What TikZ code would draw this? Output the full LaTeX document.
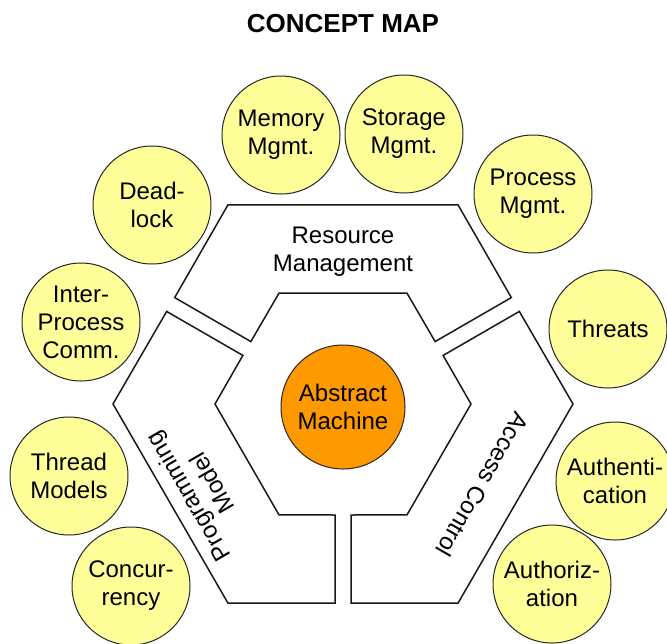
\documentclass[tikz,border=0pt]{standalone}
\usepackage{fontspec}
\setmainfont{Liberation Sans}
\definecolor{topicyellow}{HTML}{FFFF99}
\definecolor{coreorange}{HTML}{FF9900}

\begin{document}
\begin{tikzpicture}[x=1pt, y=-1pt, thick]

	\tikzstyle{topic}=[circle, line width=1pt, draw=black!85, fill=topicyellow, text=black, minimum size=118pt, inner sep=0pt, align=center, font=\fontsize{24}{28}\selectfont]
	\tikzstyle{core}=[circle, line width=1pt, draw=black!85, fill=coreorange, text=black, minimum size=124pt, inner sep=0pt, align=center, font=\fontsize{24}{28}\selectfont]
	\tikzstyle{area}=[draw=black!90, fill=white, line width=1.5pt, line join=miter]
	\tikzstyle{arealabel}=[align=center, text=black, font=\fontsize{24}{28}\selectfont]

	\useasboundingbox (0,0) rectangle (667,643);

	\node[anchor=base, font=\fontsize{26}{30}\selectfont\bfseries] (title) at (343,32) {CONCEPT MAP};

	% three parts of the hexagon
	\begin{scope}[shift={(343,404)}]
		\draw[area] ([shift={(120:8pt)}]30:199pt) -- (60:230pt) -- (120:230pt) -- ([shift={(60:8pt)}]150:199pt)
			-- ([shift={(60:8pt)}]150:111pt) -- (120:128pt) -- (60:128pt) -- ([shift={(120:8pt)}]30:111pt) -- cycle;
		\draw[area] ([shift={(240:8pt)}]150:199pt) -- (180:230pt) -- (240:230pt) -- ([shift={(180:8pt)}]270:199pt)
			-- ([shift={(180:8pt)}]270:111pt) -- (240:128pt) -- (180:128pt) -- ([shift={(240:8pt)}]150:111pt) -- cycle;
		\draw[area] ([shift={(0:8pt)}]270:199pt) -- (300:230pt) -- (0:230pt) -- ([shift={(300:8pt)}]30:199pt)
			-- ([shift={(300:8pt)}]30:111pt) -- (0:128pt) -- (300:128pt) -- ([shift={(0:8pt)}]270:111pt) -- cycle;
	\end{scope}

	\node[arealabel] (res) at (343,252) {Resource\\Management};
	\node[arealabel, rotate=120] (prog) at (200,490) {Programming\\Model};
	\node[arealabel, rotate=-120] (acc) at (483,485) {Access Control};

	% centre
	\node[core] (am) at (343,407) {Abstract\\Machine};

	% topics round the hexagon
	\node[topic] (mem) at (281,135) {Memory\\Mgmt.};
	\node[topic] (sto) at (404,134) {Storage\\Mgmt.};
	\node[topic] (proc) at (533,194) {Process\\Mgmt.};
	\node[topic] (dead) at (152,205) {Dead-\\lock};
	\node[topic] (ipc) at (81,322) {Inter-\\Process\\Comm.};
	\node[topic] (thr) at (608,329) {Threats};
	\node[topic] (tmod) at (69,476) {Thread\\Models};
	\node[topic] (authn) at (615,481) {Authenti-\\cation};
	\node[topic] (conc) at (131,586) {Concur-\\rency};
	\node[topic] (authz) at (552,584) {Authoriz-\\ation};

\end{tikzpicture}
\end{document}
